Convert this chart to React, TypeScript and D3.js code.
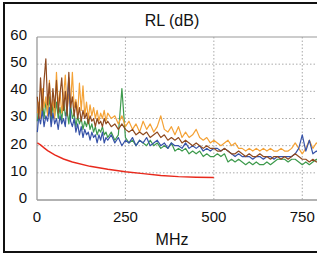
import React from 'react';
import * as d3 from 'd3';

// frequency points (MHz)
const freqs = [
  1, 5, 10, 15, 20, 25, 30, 35, 40, 45, 50, 55, 60, 65, 70, 75, 80, 85, 90, 95,
  100, 105, 110, 115, 120, 125, 130, 135, 140, 145, 150, 155, 160, 165, 170, 175, 180, 185, 190, 195,
  200, 210, 220, 230, 240, 250, 260, 270, 280, 290, 300, 310, 320, 330, 340, 350, 360, 370, 380, 390,
  400, 410, 420, 430, 440, 450, 460, 470, 480, 490, 500, 510, 520, 530, 540, 550, 560, 570, 580, 590,
  600, 610, 620, 630, 640, 650, 660, 670, 680, 690, 700, 710, 720, 730, 740, 750, 760, 770, 780, 790,
  800,
];

const orange = [
  32, 36, 30, 41, 34, 38, 31, 44, 33, 37, 30, 47, 35, 40, 32, 38, 46, 33, 39, 35,
  47, 34, 37, 32, 43, 33, 42, 31, 36, 30, 35, 31, 34, 30, 33, 29, 32, 30, 33, 29,
  32, 30, 31, 28, 31, 27, 29, 26, 28, 25, 29, 26, 28, 25, 27, 31, 26, 25, 27, 24,
  27, 23, 25, 23, 24, 26, 23, 22, 23, 21, 22, 21, 20, 21, 22, 20, 21, 19, 19, 18,
  19, 18, 19, 18, 19, 18, 19, 18, 18, 19, 18, 18, 19, 21, 19, 17, 19, 22, 19, 21,
  20,
];

const green = [
  29, 34, 31, 37, 30, 36, 32, 38, 29, 35, 31, 36, 30, 34, 29, 37, 31, 33, 28, 35,
  30, 32, 27, 31, 28, 30, 26, 29, 27, 30, 26, 28, 25, 27, 24, 26, 25, 27, 24, 25,
  23, 25, 22, 24, 41, 23, 21, 22, 20, 22, 21, 20, 22, 20, 21, 19, 20, 19, 21, 18,
  19, 18, 19, 17, 18, 17, 18, 16, 17, 16, 16, 17, 16, 17, 14, 15, 14, 15, 14, 13,
  14, 13, 14, 13, 13, 14, 13, 14, 15, 15, 15, 14, 15, 15, 14, 13, 14, 13, 14, 15,
  14,
];

const blue = [
  25, 31, 28, 33, 27, 31, 29, 34, 27, 32, 28, 30, 26, 31, 28, 30, 27, 36, 45, 29,
  27, 30, 25, 28, 24, 27, 23, 26, 24, 25, 22, 25, 23, 24, 21, 24, 22, 25, 21, 23,
  22, 24, 21, 23, 20, 22, 21, 23, 20, 22, 21, 23, 20, 21, 22, 20, 21, 19, 21, 20,
  20, 19, 21, 19, 20, 19, 20, 18, 19, 18, 19, 19, 18, 19, 18, 17, 16, 17, 16, 16,
  16, 15, 16, 16, 15, 16, 16, 15, 16, 16, 16, 16, 16, 17, 19, 24, 18, 22, 17, 18,
  17,
];

const brown = [
  38, 30, 45, 33, 44, 52, 35, 43, 31, 41, 34, 44, 32, 39, 45, 33, 40, 31, 47, 34,
  38, 31, 36, 30, 34, 29, 33, 30, 32, 28, 31, 29, 30, 27, 30, 28, 29, 27, 30, 28,
  29, 27, 28, 26, 28, 26, 25, 26, 24, 25, 24, 25, 23, 24, 25, 23, 24, 22, 23, 22,
  23, 21, 22, 21, 20, 21, 20, 19, 20, 19, 19, 18, 18, 19, 18, 17, 17, 18, 17, 16,
  17, 16, 16, 17, 16, 16, 15, 16, 16, 15, 16, 15, 16, 17, 16, 15, 15, 14, 15, 14,
  14,
];

// limit line
const limitFreqs = [1, 10, 20, 30, 50, 75, 100, 150, 200, 250, 300, 350, 400, 450, 500];
const limit = [21, 20.3, 19.2, 18.2, 16.6, 15.1, 14, 12.4, 11.3, 10.4, 9.7, 9, 8.6, 8.4, 8.3];

const xTicks = [0, 250, 500, 750];
const yTicks = [0, 10, 20, 30, 40, 50, 60];

const series = [
  { name: 'green', values: green, color: '#3d9a4c' },
  { name: 'orange', values: orange, color: '#f4a236' },
  { name: 'blue', values: blue, color: '#3753a8' },
  { name: 'brown', values: brown, color: '#8f4a1f' },
];

export default function App() {
  const W = 317, H = 255;
  const left = 37, top = 37, bottom = 200;
  // axis runs to 1000 MHz, beyond the right edge of the picture
  const x = d3.scaleLinear().domain([0, 1000]).range([left, left + 353.7]);
  const y = d3.scaleLinear().domain([0, 60]).range([bottom, top]);

  const line = d3.line<[number, number]>().x(d => x(d[0])).y(d => y(d[1]));
  const font = 'Arial, "Liberation Sans", sans-serif';

  return (
    <svg width={W} height={H} style={{ position: 'absolute', left: 0, top: 0, background: '#fff' }} fontFamily={font}>
      {/* outer frame */}
      <rect x={4} y={3} width={400} height={249} fill="#fff" stroke="#111" strokeWidth={2} />

      {/* grid */}
      {yTicks.filter(t => t > 0 && t < 60).map(t => (
        <line key={'gy' + t} x1={left} x2={W + 100} y1={y(t)} y2={y(t)} stroke="#aaa" strokeWidth={1} strokeDasharray="1.5,2" />
      ))}
      {xTicks.filter(t => t > 0).map(t => (
        <line key={'gx' + t} x1={x(t)} x2={x(t)} y1={top} y2={bottom} stroke="#aaa" strokeWidth={1} strokeDasharray="1.5,2" />
      ))}

      {/* plot frame */}
      <line x1={left} x2={W + 100} y1={top} y2={top} stroke="#999" strokeWidth={1} />
      <line x1={left} x2={W + 100} y1={bottom} y2={bottom} stroke="#999" strokeWidth={1.3} />
      <line x1={left} x2={left} y1={top} y2={bottom} stroke="#999" strokeWidth={1.3} />

      {/* limit */}
      <path d={line(limitFreqs.map((f, i) => [f, limit[i]]) as [number, number][]) || ''} fill="none" stroke="#e8291c" strokeWidth={1.4} />

      {series.map(s => (
        <path key={s.name} d={line(freqs.map((f, i) => [f, s.values[i]]) as [number, number][]) || ''}
          fill="none" stroke={s.color} strokeWidth={1.2} strokeLinejoin="round" />
      ))}

      {/* y tick labels */}
      {yTicks.map(t => (
        <text key={'ty' + t} x={27} y={y(t) - 1} textAnchor="end" dominantBaseline="middle" fontSize={15} fill="#111">{t}</text>
      ))}
      {/* x tick labels */}
      {xTicks.map(t => (
        <text key={'tx' + t} x={x(t)} y={222} textAnchor="middle" fontSize={15} fill="#111">{t}</text>
      ))}

      <text x={172} y={26} textAnchor="middle" fontSize={16} fill="#111">RL (dB)</text>
      <text x={172} y={245} textAnchor="middle" fontSize={16} fill="#111">MHz</text>
    </svg>
  );
}
